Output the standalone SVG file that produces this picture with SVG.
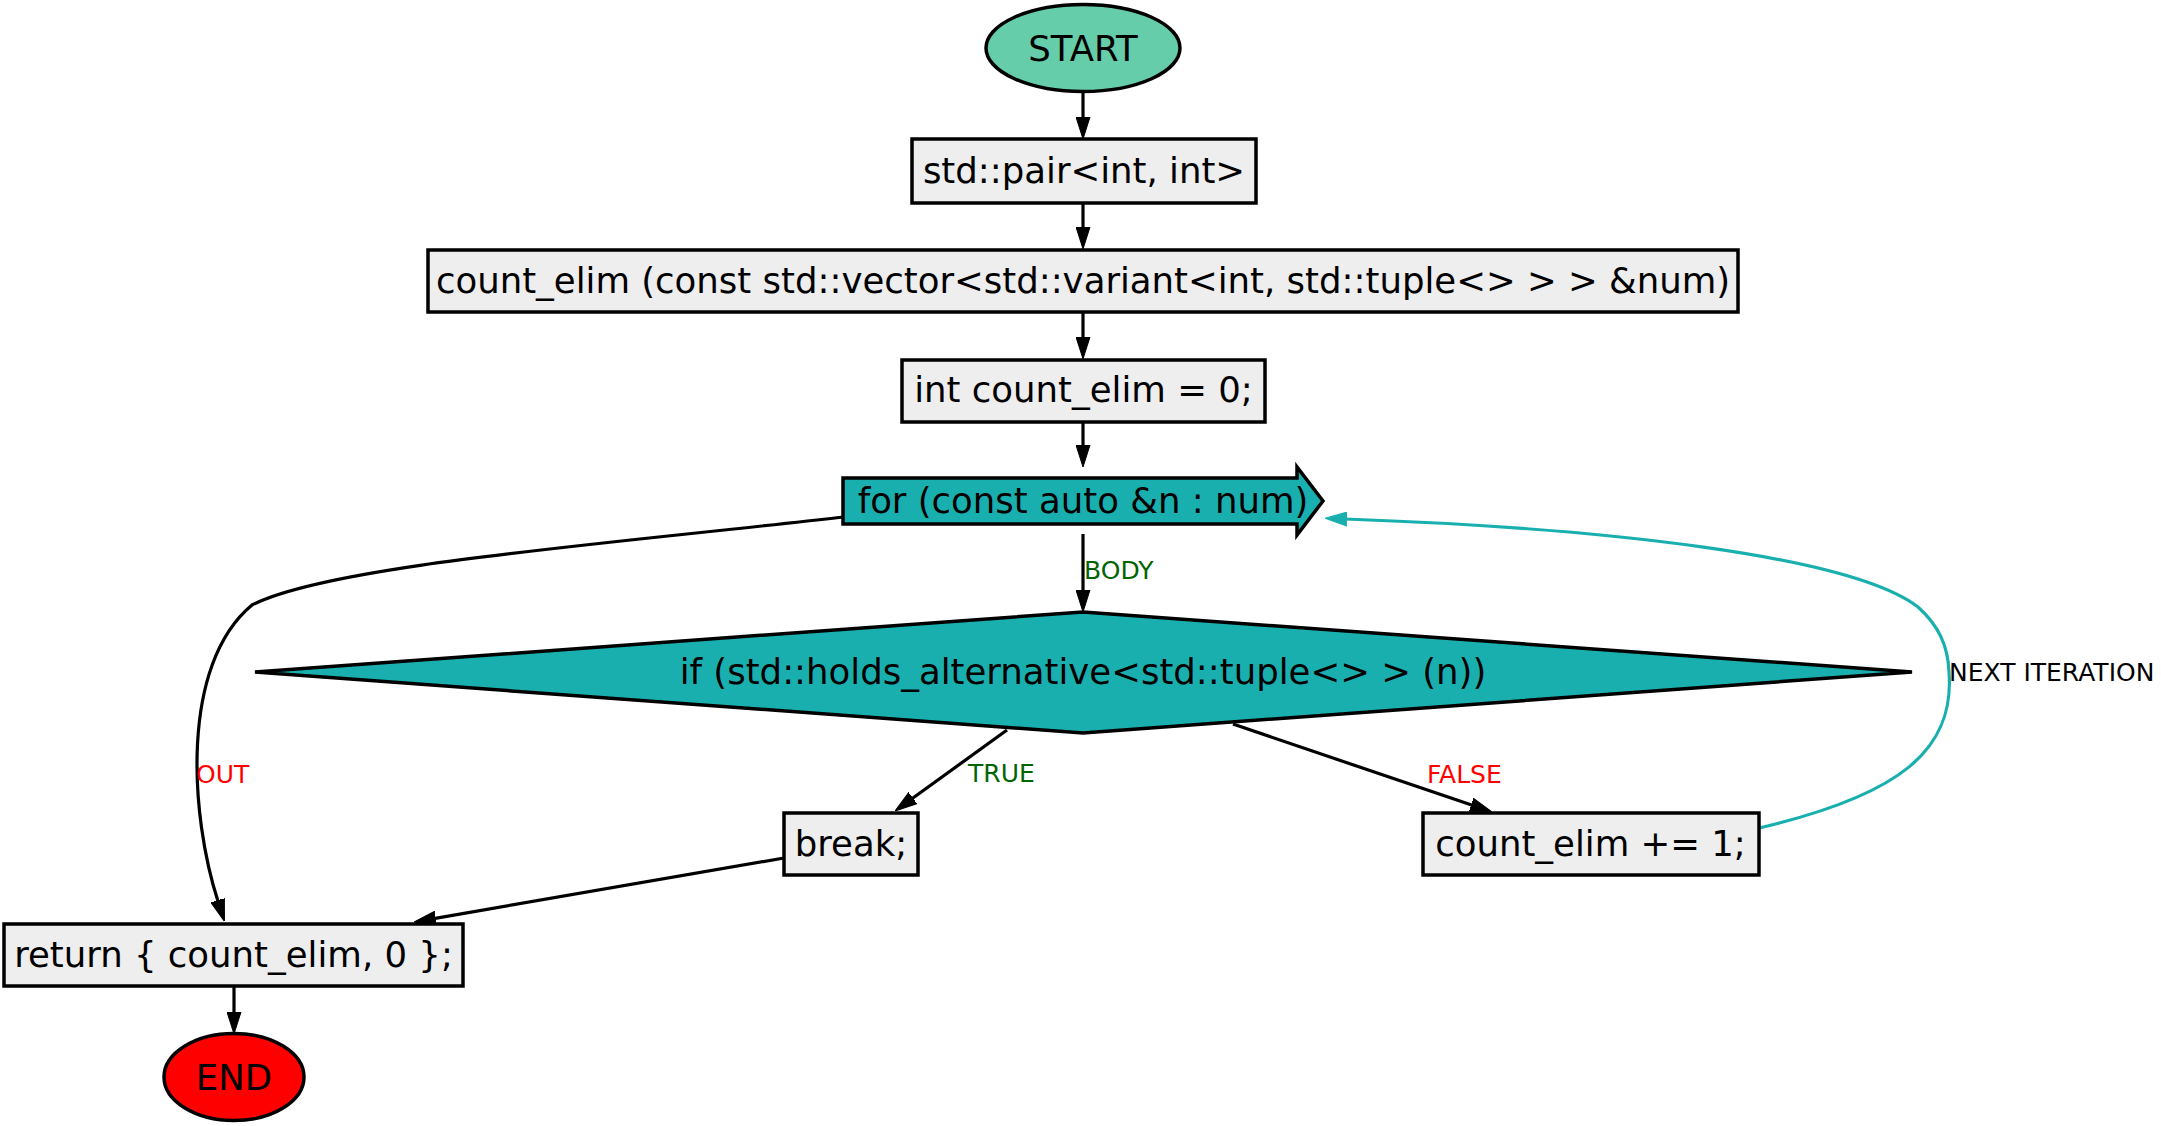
<svg xmlns="http://www.w3.org/2000/svg" width="2161" height="1126" viewBox="0 0 2161 1126">
<style>
text{font-family:"DejaVu Sans","Liberation Sans",sans-serif}
.n{font-size:35.5px;text-anchor:middle;fill:#000}
.box{fill:#eeeeee;stroke:#000;stroke-width:3.5}
.teal{fill:#1aafaf;stroke:#000;stroke-width:3.5}
.e{fill:none;stroke:#000;stroke-width:3.2}
.c{fill:none;stroke:#1aafaf;stroke-width:3.2}
.l{font-size:25px}
</style>
<defs>
<marker id="ab" viewBox="0 -7.5 22 15" markerWidth="22" markerHeight="15" refX="2" refY="0" orient="auto" markerUnits="userSpaceOnUse"><path d="M0,-7 L22,0 L0,7 z" fill="#000" stroke="#000" stroke-width="1"/></marker>
<marker id="ac" viewBox="0 -7.5 22 15" markerWidth="22" markerHeight="15" refX="2" refY="0" orient="auto" markerUnits="userSpaceOnUse"><path d="M0,-7 L22,0 L0,7 z" fill="#1aafaf" stroke="#1aafaf" stroke-width="1"/></marker>
</defs>
<rect width="2161" height="1126" fill="#fff"/>
<g id="connectors">
<path class="e" d="M1083,91 V119" marker-end="url(#ab)"/>
<path class="e" d="M1083,203 V229" marker-end="url(#ab)"/>
<path class="e" d="M1083,312 V339" marker-end="url(#ab)"/>
<path class="e" d="M1083,422 V447" marker-end="url(#ab)"/>
<path class="e" d="M1083,534 V592" marker-end="url(#ab)"/>
<path class="e" d="M1007,730 L911.2,799.3" marker-end="url(#ab)"/>
<path class="e" d="M1233,724 L1473.1,805.6" marker-end="url(#ab)"/>
<path class="e" d="M784,858 L433.7,918.6" marker-end="url(#ab)"/>
<path class="e" d="M843,517 C600,545 330,565 252,605 C180,665 190,815 218.3,902.3" marker-end="url(#ab)"/>
<path class="e" d="M234,986 V1014" marker-end="url(#ab)"/>
<path class="c" d="M1759,828 C1900,795 1955,750 1949,672 C1948,645 1938,625 1918,607 C1850,555 1600,528 1345,519" marker-end="url(#ac)"/>
<text class="l" x="1084" y="579" fill="#006400">BODY</text>
<text class="l" x="968" y="782" fill="#006400">TRUE</text>
<text class="l" x="1427" y="783" fill="#ff0000">FALSE</text>
<text class="l" x="196" y="783" fill="#ff0000">OUT</text>
<text class="l" x="1949" y="681" fill="#000">NEXT ITERATION</text>
</g>
<g id="start">
<ellipse cx="1083" cy="48" rx="97" ry="43.5" fill="#66cdaa" stroke="#000" stroke-width="3.5"/>
<text class="n" x="1083" y="61">START</text>
</g>
<g id="pair">
<rect class="box" x="912" y="139" width="344" height="64"/>
<text class="n" x="1084" y="183">std::pair&lt;int, int&gt;</text>
</g>
<g id="func">
<rect class="box" x="428" y="250" width="1310" height="62"/>
<text class="n" x="1083" y="293">count_elim (const std::vector&lt;std::variant&lt;int, std::tuple&lt;&gt; &gt; &gt; &amp;num)</text>
</g>
<g id="init">
<rect class="box" x="902" y="360" width="363" height="62"/>
<text class="n" x="1083.5" y="402">int count_elim = 0;</text>
</g>
<g id="loop">
<polygon class="teal" points="843,478 1297,478 1297,467 1323,501 1297,535 1297,524 843,524"/>
<text class="n" x="1083" y="513">for (const auto &amp;n : num)</text>
</g>
<g id="cond">
<polygon class="teal" points="1083,612 1912,672 1083,733 255,672"/>
<text class="n" x="1083" y="684">if (std::holds_alternative&lt;std::tuple&lt;&gt; &gt; (n))</text>
</g>
<g id="brk">
<rect class="box" x="784" y="813" width="134" height="62"/>
<text class="n" x="851" y="856">break;</text>
</g>
<g id="inc">
<rect class="box" x="1423" y="813" width="336" height="62"/>
<text class="n" x="1590.5" y="856">count_elim += 1;</text>
</g>
<g id="ret">
<rect class="box" x="4" y="924" width="459" height="62"/>
<text class="n" x="233.5" y="967">return { count_elim, 0 };</text>
</g>
<g id="end">
<ellipse cx="234" cy="1077" rx="70" ry="43.5" fill="#ff0000" stroke="#000" stroke-width="3.5"/>
<text class="n" x="234" y="1090">END</text>
</g>
</svg>
